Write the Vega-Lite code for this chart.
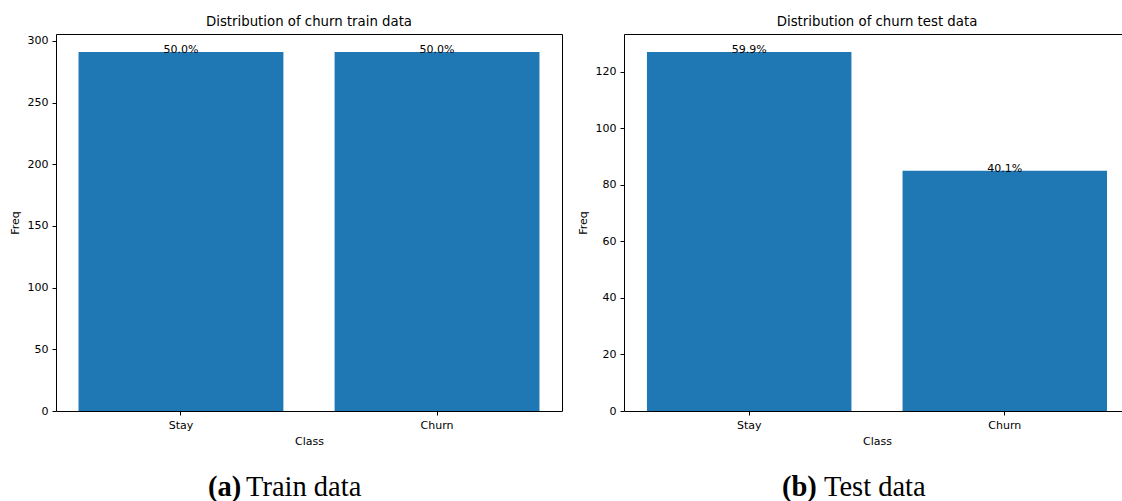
{
  "$schema": "https://vega.github.io/schema/vega-lite/v6.json",
  "background": "white",
  "padding": {"left": 8, "top": 14, "right": 0, "bottom": 0},
  "config": {
    "font": "DejaVu Sans",
    "view": {"stroke": "black", "strokeWidth": 1},
    "axis": {
      "domain": false,
      "grid": false,
      "ticks": true,
      "tickColor": "black",
      "tickSize": 4,
      "labelFontSize": 11,
      "labelColor": "black",
      "titleFontSize": 11,
      "titleFontWeight": "normal",
      "titleColor": "black",
      "labelPadding": 4
    },
    "title": {"fontSize": 13.3, "fontWeight": "normal", "color": "black", "offset": 6}
  },
  "spacing": 13,
  "hconcat": [
    {
      "spacing": 25,
      "vconcat": [
        {
          "width": 506,
          "height": 377,
          "title": {"text": "Distribution of churn train data"},
          "data": {"values": [
            {"Class": "Stay", "Freq": 291, "pct": "50.0%"},
            {"Class": "Churn", "Freq": 291, "pct": "50.0%"}
          ]},
          "encoding": {
            "x": {"field": "Class", "type": "nominal", "sort": ["Stay", "Churn"],
              "scale": {"paddingInner": 0.2, "paddingOuter": 0.088},
              "axis": {"labelAngle": 0, "title": "Class", "titlePadding": 5}},
            "y": {"field": "Freq", "type": "quantitative",
              "scale": {"domain": [0, 305.55], "nice": false, "zero": true},
              "axis": {"values": [0, 50, 100, 150, 200, 250, 300], "title": "Freq", "titlePadding": 7}}
          },
          "layer": [
            {"mark": {"type": "bar", "color": "#1f77b4"}},
            {"mark": {"type": "text", "baseline": "alphabetic", "dy": 1, "fontSize": 11, "color": "black"},
              "encoding": {"text": {"field": "pct"}}}
          ]
        },
        {
          "width": 458,
          "height": 30,
          "view": {"stroke": null},
          "data": {"values": [{"tag": "(a)", "caption": "Train data"}]},
          "layer": [
            {"mark": {"type": "text", "font": "Liberation Serif", "fontSize": 28.5, "fontWeight": "bold", "align": "left", "baseline": "middle", "dx": -77, "color": "black"},
              "encoding": {"text": {"field": "tag"}}},
            {"mark": {"type": "text", "font": "Liberation Serif", "fontSize": 28.5, "align": "left", "baseline": "middle", "dx": -39, "color": "black"},
              "encoding": {"text": {"field": "caption"}}}
          ]
        }
      ]
    },
    {
      "spacing": 25,
      "vconcat": [
        {
          "width": 498,
          "height": 377,
          "title": {"text": "Distribution of churn test data", "dx": 4},
          "data": {"values": [
            {"Class": "Stay", "Freq": 127, "pct": "59.9%"},
            {"Class": "Churn", "Freq": 85, "pct": "40.1%"}
          ]},
          "encoding": {
            "x": {"field": "Class", "type": "nominal", "sort": ["Stay", "Churn"],
              "scale": {"paddingInner": 0.2, "paddingOuter": 0.0742, "align": 0.605},
              "axis": {"labelAngle": 0, "title": "Class", "titlePadding": 5, "titleX": 253}},
            "y": {"field": "Freq", "type": "quantitative",
              "scale": {"domain": [0, 133.35], "nice": false, "zero": true},
              "axis": {"values": [0, 20, 40, 60, 80, 100, 120], "title": "Freq", "titlePadding": 7}}
          },
          "layer": [
            {"mark": {"type": "bar", "color": "#1f77b4"}},
            {"mark": {"type": "text", "baseline": "alphabetic", "dy": 1, "fontSize": 11, "color": "black"},
              "encoding": {"text": {"field": "pct"}}}
          ]
        },
        {
          "width": 458,
          "height": 30,
          "view": {"stroke": null},
          "data": {"values": [{"tag": "(b)", "caption": "Test data"}]},
          "layer": [
            {"mark": {"type": "text", "font": "Liberation Serif", "fontSize": 28.5, "fontWeight": "bold", "align": "left", "baseline": "middle", "dx": -71, "color": "black"},
              "encoding": {"text": {"field": "tag"}}},
            {"mark": {"type": "text", "font": "Liberation Serif", "fontSize": 28.5, "align": "left", "baseline": "middle", "dx": -29, "color": "black"},
              "encoding": {"text": {"field": "caption"}}}
          ]
        }
      ]
    }
  ]
}
